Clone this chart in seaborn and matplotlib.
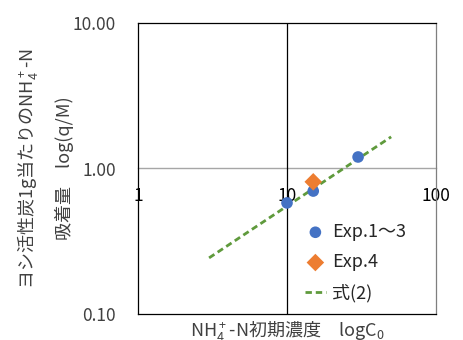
import matplotlib
matplotlib.use("Agg")
import matplotlib.pyplot as plt
import seaborn as sns
import pandas as pd

# data
exp13_x = [10, 15, 30]
exp13_y = [0.58, 0.70, 1.20]
exp4_x = [15]
exp4_y = [0.81]
eq2_x = [3, 50]
eq2_y = [0.243, 1.65]
x_ticks = [1, 10, 100]
x_tick_labels = ["1", "10", "100"]
y_ticks = [0.1, 1, 10]
y_tick_labels = ["0.10", "1.00", "10.00"]

sns.set_theme(style="white")
plt.rcParams["font.family"] = ["Noto Sans CJK JP", "DejaVu Sans"]
plt.rcParams["mathtext.fontset"] = "custom"
plt.rcParams["mathtext.rm"] = "Noto Sans CJK JP"
plt.rcParams["mathtext.default"] = "rm"

fig = plt.figure(figsize=(4.63, 3.40), dpi=100)
ax = fig.add_axes([138 / 463, 26 / 340, 298 / 463, 291 / 340])
ax.set_xscale("log")
ax.set_yscale("log")
ax.set_xlim(1, 100)
ax.set_ylim(0.1, 10)

df13 = pd.DataFrame({"x": exp13_x, "y": exp13_y})
df4 = pd.DataFrame({"x": exp4_x, "y": exp4_y})
dfe = pd.DataFrame({"x": eq2_x, "y": eq2_y})

ax.axvline(10, color="black", lw=0.9, zorder=1)

sns.lineplot(data=dfe, x="x", y="y", ax=ax, color="#5F9A3C", lw=2.0,
             dashes=False, label="式(2)", zorder=2)
ax.lines[-1].set_dashes((2.3, 1.4))
sns.scatterplot(data=df13, x="x", y="y", ax=ax, color="#4472C4", s=70,
                marker="o", edgecolor="none", label="Exp.1～3", zorder=3)
sns.scatterplot(data=df4, x="x", y="y", ax=ax, color="#ED7D31", s=80,
                marker="D", edgecolor="none", label="Exp.4", zorder=4)

# y axis
ax.set_yticks(y_ticks)
ax.set_yticklabels(y_tick_labels)
ax.yaxis.set_minor_locator(matplotlib.ticker.NullLocator())
ax.tick_params(axis="y", length=0, pad=16, labelsize=12.5, colors="#404040")
ax.set_ylabel("ヨシ活性炭1g当たりのNH$_4^+$-N\n吸着量　log(q/M)",
              fontsize=13, color="#404040", linespacing=2.0)
ax.yaxis.set_label_coords(-0.215, 0.5)

# x axis: tick labels along y = 1
ax.set_xticks([])
ax.xaxis.set_minor_locator(matplotlib.ticker.NullLocator())
sec = ax.secondary_xaxis(0.5)
sec.xaxis.tick_bottom()
sec.set_xticks(x_ticks)
sec.set_xticklabels(x_tick_labels)
sec.xaxis.set_minor_locator(matplotlib.ticker.NullLocator())
sec.tick_params(axis="x", length=0, pad=13, labelsize=12.5, colors="black")
for s in ["top", "bottom"]:
    sec.spines[s].set_color("#A6A6A6")
    sec.spines[s].set_linewidth(1.0)
ax.set_xlabel("NH$_4^+$-N初期濃度　logC$_0$", fontsize=13, color="#404040")
ax.xaxis.set_label_coords(0.5, -0.018)
ax.xaxis.label.set_va("top")

for s in ["left", "top", "bottom"]:
    ax.spines[s].set_color("black")
    ax.spines[s].set_linewidth(0.9)
ax.spines["right"].set_color("#7F7F7F")
ax.spines["right"].set_linewidth(0.9)

h, l = ax.get_legend_handles_labels()
order = [l.index("Exp.1～3"), l.index("Exp.4"), l.index("式(2)")]
ax.legend([h[i] for i in order], [l[i] for i in order], loc="upper left",
          bbox_to_anchor=(305 / 463, 1 - 223 / 340), bbox_transform=fig.transFigure,
          frameon=False, fontsize=13, handlelength=1.15, handletextpad=0.35,
          labelspacing=0.68, borderaxespad=0, borderpad=0)

fig.savefig("out.png", dpi=100)
